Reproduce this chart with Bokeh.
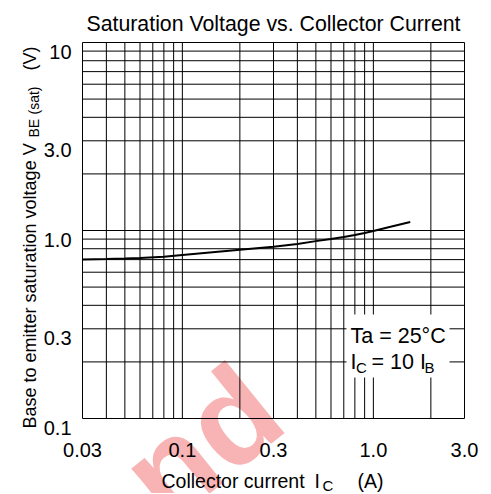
import math
from bokeh.plotting import figure
from bokeh.models import Range1d
from bokeh.core.properties import value
from bokeh.embed import file_html
from bokeh.resources import INLINE

# ---- data ----
collector_current_a = [0.03, 0.04, 0.05, 0.06, 0.08, 0.1, 0.2, 0.3, 0.4, 0.5,
                       0.6, 0.7, 0.8, 0.9, 1.0, 1.2, 1.56]
vbe_sat_v = [0.70, 0.705, 0.71, 0.715, 0.725, 0.74, 0.79, 0.82, 0.847, 0.878,
             0.90, 0.923, 0.946, 0.97, 0.993, 1.04, 1.11]

x_ticks = [0.03, 0.1, 0.3, 1.0, 3.0]
x_tick_labels = ["0.03", "0.1", "0.3", "1.0", "3.0"]
y_ticks = [0.1, 0.3, 1.0, 3.0, 10.0]
y_tick_labels = ["0.1", "0.3", "1.0", "3.0", "10"]

x_grid = [0.04, 0.05, 0.06, 0.07, 0.08, 0.09, 0.1,
          0.2, 0.3, 0.4, 0.5, 0.6, 0.7, 0.8, 0.9, 1.0, 2.0]
y_grid = [0.2, 0.3, 0.4, 0.5, 0.6, 0.7, 0.8, 0.9, 1.0,
          2.0, 3.0, 4.0, 5.0, 6.0, 7.0, 8.0, 9.0]

title_text = "Saturation Voltage vs. Collector Current"
FONT = "Liberation Sans"

# ---- layout: the log frame fills the canvas, chart box placed inside ----
W, H = 490, 493
BOX_L, BOX_R, BOX_T, BOX_B = 82, 464, 42, 418

lx0, lx1 = math.log10(x_ticks[0]), math.log10(x_ticks[-1])
ly0, ly1 = math.log10(y_ticks[0]), math.log10(y_ticks[-1])
ppx = (BOX_R - BOX_L) / (lx1 - lx0)
ppy = (BOX_B - BOX_T) / (ly1 - ly0)


def X(px):
    return 10 ** (lx0 + (px - BOX_L) / ppx)


def Y(py):
    return 10 ** (ly0 + (BOX_B - py) / ppy)


def Y_at(v, dpx):
    """data y of a point dpx screen pixels below value v"""
    return 10 ** (math.log10(v) - dpx / ppy)


p = figure(width=W, height=H, x_axis_type="log", y_axis_type="log",
           x_range=Range1d(X(0), X(W)), y_range=Range1d(Y(H), Y(0)),
           x_axis_location=None, y_axis_location=None,
           output_backend="svg", toolbar_location=None, min_border=0)
p.grid.visible = False
p.outline_line_color = None
p.background_fill_color = "white"
p.border_fill_color = "white"


def txt(xs, ys, texts, size, align="left", baseline="alphabetic", angle=0.0,
        color="black", style="normal"):
    p.text(x=xs, y=ys, text=texts, angle=angle, text_font=value(FONT),
           text_font_size=value(size), text_font_style=style, text_color=color,
           text_align=align, text_baseline=baseline)


# faint watermark (behind everything)
txt([X(139)], [Y(492)], ["nd"], "130px", angle=math.radians(39),
    color="#f8b4b4", style="bold")

# grid lines at every 1..9 multiple
n, m = len(x_grid), len(y_grid)
p.segment(x0=x_grid, y0=[y_ticks[0]] * n, x1=x_grid, y1=[y_ticks[-1]] * n,
          line_color="black", line_width=1)
p.segment(x0=[x_ticks[0]] * m, y0=y_grid, x1=[x_ticks[-1]] * m, y1=y_grid,
          line_color="black", line_width=1)
p.quad(left=x_ticks[0], right=x_ticks[-1], bottom=y_ticks[0], top=y_ticks[-1],
       fill_color=None, line_color="black", line_width=1)

# curve
p.line(collector_current_a, vbe_sat_v, line_color="black", line_width=2)

# tick labels
txt(x_ticks, [Y(BOX_B + 31)] * len(x_ticks), x_tick_labels, "20px", align="center")
txt([X(BOX_L - 11)] * len(y_ticks), [Y_at(v, 9) for v in y_ticks],
    y_tick_labels, "20px", align="right")

# title
txt([X((BOX_L + BOX_R) / 2)], [Y(23)], [title_text], "21.3px", align="center")

# condition notes on a white patch
p.quad(left=X(346), right=X(449), top=Y(314), bottom=Y(377),
       fill_color="white", line_color=None)
txt([X(350)], [Y(335)], ["Ta = 25°C"], "21.5px")
txt([X(350)], [Y(361)], ["I"], "21.5px")
txt([X(355.5)], [Y(367)], ["C"], "15px")
txt([X(371)], [Y(361)], ["= 10 I"], "21.5px")
txt([X(424)], [Y(367)], ["B"], "15px")

# x-axis label: Collector current  I_C  (A)
txt([X(161)], [Y(480)], ["Collector current"], "19.5px")
txt([X(314)], [Y(480)], ["I"], "19.5px")
txt([X(322)], [Y(484.5)], ["C"], "15px")
txt([X(357)], [Y(480)], ["(A)"], "19.5px")

# y-axis label: Base to emitter saturation voltage  V_BE (sat)  (V)
R = math.pi / 2
txt([X(29)], [Y(428)], ["Base to emitter saturation voltage  V"], "18px", angle=R)
txt([X(33)], [Y(137)], ["BE"], "14px", angle=R)
txt([X(33)], [Y(114)], ["(sat)"], "14px", angle=R)
txt([X(29)], [Y(70)], ["(V)"], "18px", angle=R)

open("out.html", "w").write(file_html(p, INLINE))
